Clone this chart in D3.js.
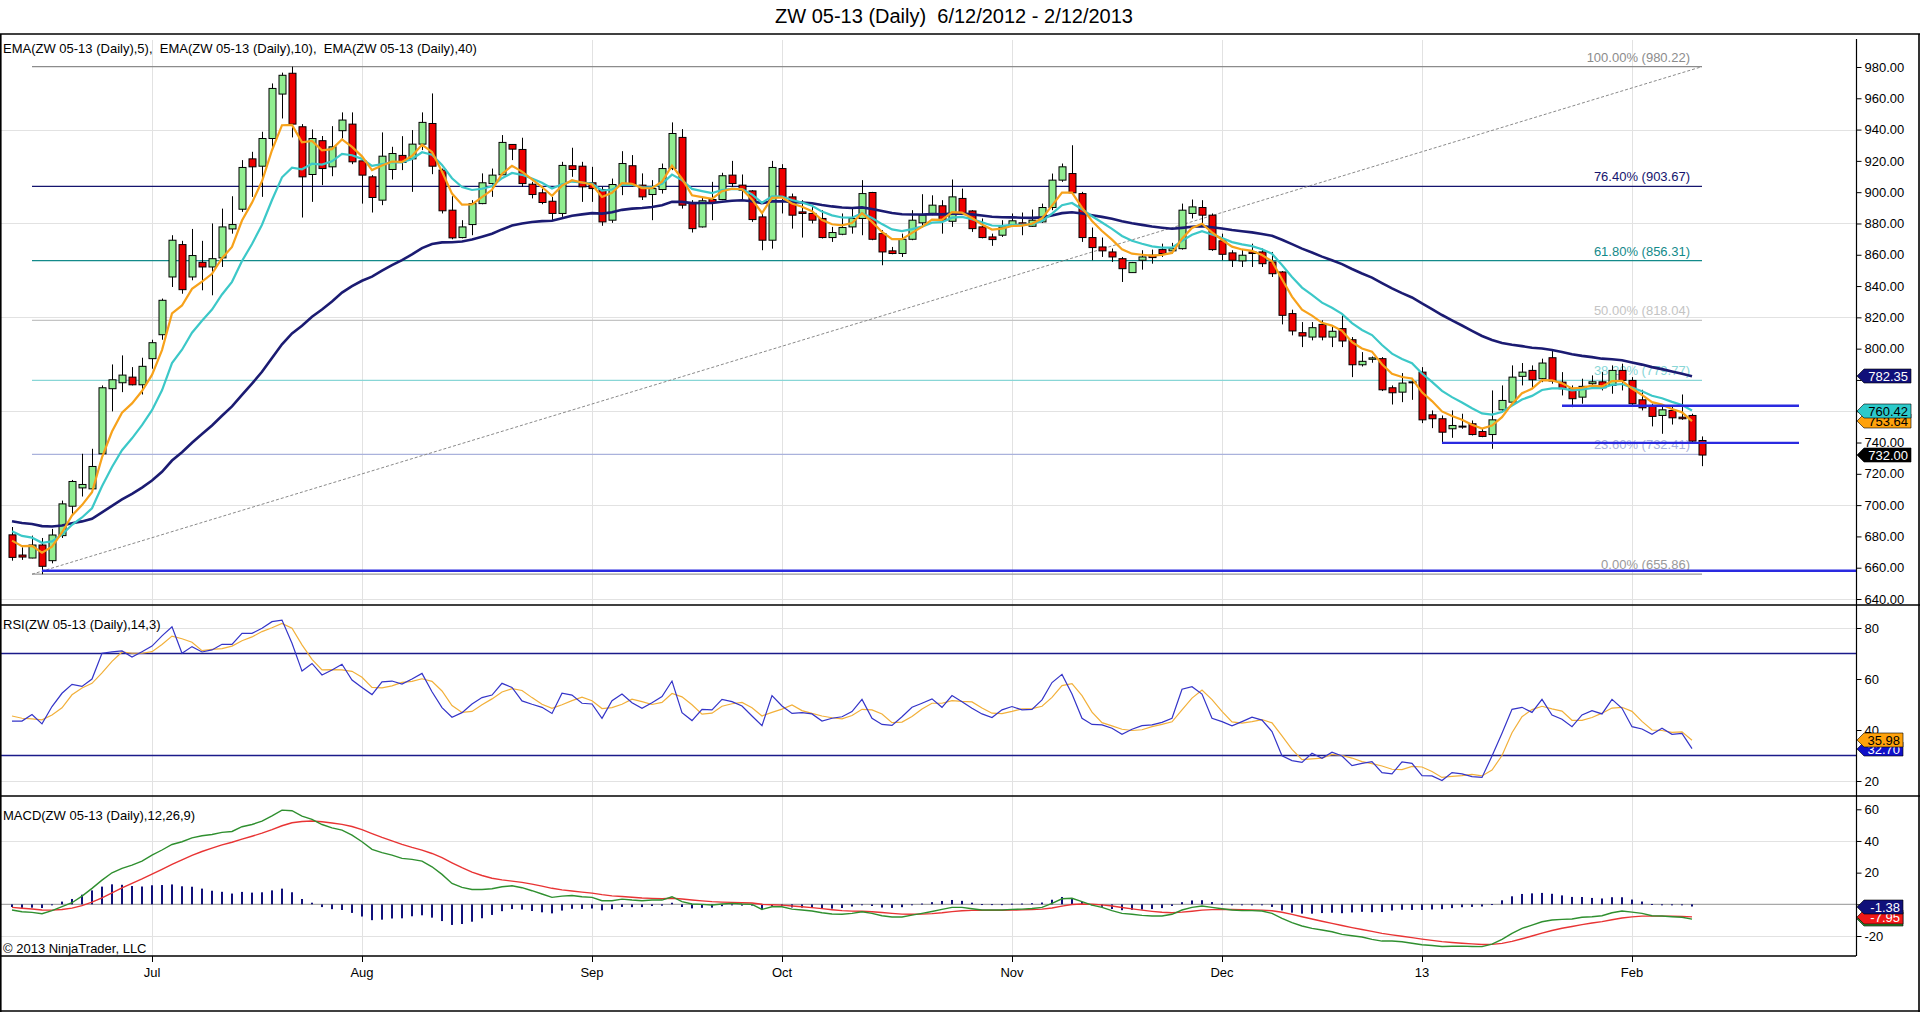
<!DOCTYPE html>
<html>
<head>
<meta charset="utf-8">
<script src="https://cdn.jsdelivr.net/npm/d3@7"></script>
<style>
  body { margin: 0; background: #fff; }
  text { font-family: "Liberation Sans", Arial, sans-serif; white-space: pre; }
</style>
</head>
<body>
<svg id="chart"></svg>
<script>
// ZW 05-13 daily bars, 6/12/2012 - 2/12/2013 (bar index 0..169)
const opens = [681,668.1,666.2,674.5,664.5,680.5,699.3,711,710.4,732.8,774.4,778.2,781.8,776.9,793.6,808.9,845.8,866.5,845.8,855.2,
852.2,858,876.5,889.1,921.3,916.6,934.3,962.7,976,941.8,911.3,932.9,916.2,939.3,943.5,920,909.8,894.9,914.5,923.5,
921.3,930.7,943.9,914.1,888.5,871,879.3,892.7,905.5,911.1,930.5,927.3,905.1,899.6,894.2,886.4,916.9,916.6,906,901.7,
882.1,904.5,916.9,904.5,898.5,901.7,915.1,935,892.7,877.8,895.3,895.3,910.9,904.5,900.8,884.2,869.3,915.1,897,887.4,
886.4,883.2,871,873.1,877.8,883.2,899.8,873.5,862.5,860.8,869.9,880.4,886.4,891.3,881.4,896,888,877.8,871.4,872.5,
878.9,880.4,878.2,881,890.2,907.7,911.9,899.1,871,865,861.8,857.5,848.6,856.5,859.7,863.3,862.5,863.9,886.4,890.2,
885.3,868.9,861.2,856.1,861.8,861.8,855.4,849,822.4,810.2,807.4,815.5,807.4,812.8,805.7,789.7,793.2,793.6,775,772.2,
778.2,785,757.7,755.2,748.8,750.5,752,747,745.1,760.9,765.8,782.3,786.1,780.8,794.2,778.6,774.4,769,777.6,778.8,
776.5,786.1,779.7,767.3,763.7,757.3,760.5,756.2,757.3,741.3];
const highs = [686,673,680.5,679,684.8,702.9,716.1,732.8,736,776.5,789.9,795.7,788.2,794.2,805.7,832,872.5,868.9,876.5,868.9,
880,889.5,897.4,920.5,925.8,938.6,969.5,976.4,980.22,943.5,940.1,935.9,942.2,951,951,920.9,910.9,938.2,929,935.8,
939.7,951,963.1,915.1,897.4,882.1,894.9,912,915.1,936.5,930.7,934.8,906.6,902.3,897,919.4,928.4,919.4,916.2,903.4,
908.7,926.2,923.7,912,907.7,918.3,944.6,940.3,894.9,897,906.6,912.4,920,911.3,901.3,886.4,920,917.9,899.1,894.9,
890.6,888.5,877.8,886.4,889.5,907.7,900.2,875.7,865,873.5,888.5,898.7,898,894.9,908.1,902.3,888.5,883.2,873.5,882.1,
886.4,887,888.9,892.7,911.9,918.3,930,900.2,877.4,871,864,858.6,855.4,862.9,863.3,867.1,867.6,892.7,895.3,894.9,
886.4,873.5,862.9,863.3,867.1,864,861.8,849.6,824.9,817,817,818.1,813.8,821.3,807.4,797.8,795,794.6,776.5,784.4,
780.1,788.2,760.5,757.3,760.5,758.4,754.1,748.8,773.3,776.5,789.3,790.8,789.3,793.6,798.9,785,776.5,780.8,782.9,785,
789.3,790.4,781.8,773.7,764.8,763.7,763.7,770.7,758.4,743.9];
const lows = [664.5,665,666,655.86,662.8,679,694.4,705.5,709.3,732.3,759.9,772.2,776.5,770.7,787.2,805.7,839.4,835.1,843.7,837.3,
834.1,852.2,873.5,887.4,897,897,929,947.1,935,883.8,893.8,904.5,910.2,934.3,917.9,892.7,887,891.7,908.1,914.1,
900.2,926.9,911.5,886.4,869.9,870.5,872.5,892.3,897,910.9,920.5,903.4,896,892.3,882.1,884.2,909.8,893.8,893.8,878.5,
880.4,898.1,903.4,895,882.1,899.1,914.1,889.5,874.2,877.4,882.1,894.9,903.4,894.9,881,862.9,863.9,886.4,876.7,871,
880,870.4,868.2,872.5,873.5,872.5,869.3,853.3,860.3,858.6,869.3,877.8,885.3,873.5,877.8,886,874.6,870.5,865.7,871.4,
878,872.5,877.8,880.4,888.5,906.6,899.1,868.2,856.5,858.6,855.4,842.6,848.4,850.5,854.3,858.6,860.8,863.3,883.2,877.8,
862.5,856.5,852.2,852.2,852.2,852.2,845.8,815.5,808.5,801,805.3,805.3,801,801,781.8,788.6,791,772.9,764.3,765.8,
767.3,752.4,749.2,739.6,743,748.8,744.5,743.4,736,759.4,764.8,776.5,775.4,778.6,777.6,770.1,762.6,764.8,775.4,773.3,
771.2,773.3,763.7,760.5,750.3,745.6,751.5,754.5,740.2,724.9];
const closes = [666.6,666.8,674.5,660.9,680.9,700.8,715.1,713.2,724.7,775,780.1,783.1,776.9,788.7,803.8,830.9,869.3,837.7,859.5,852.2,
857.5,877.8,879.3,915.8,916.2,934.3,966.3,974.7,943.5,909.8,934.3,915.1,929,946.1,919.4,910.9,896.6,923,924.7,919,
930.7,944.6,916.6,888.1,870.8,877.8,892.7,906,910.9,931.8,927.5,905.5,898.5,893.4,886.4,917.1,914.5,903.4,902.3,881,
904.9,918.3,904.5,897,902.3,915.1,937.5,891.7,876.7,894.5,893.4,910.5,905.5,901.3,882.5,869.3,915.8,897,885.3,886.4,
882.1,871,874.2,877.4,883.2,899.1,869.9,861.8,860.8,869.9,882.1,885.3,891.7,882.1,897,886.4,876.7,871,869.7,877.8,
881.7,878.9,882.1,890.2,907.7,916.2,899.6,871,864.6,862.5,858.6,851.1,855,858.6,858.2,860.8,863.9,888.5,890.6,885.3,
863.3,860.3,856.5,859.7,860.8,854.3,847.9,821.3,811.3,808.1,813.4,807.4,811.1,804.9,789.7,791.9,794.1,773.7,771.8,778,
778.8,754.5,755.2,746.6,750.9,750.1,745.1,743.9,754.5,766.9,781.8,785,780.1,790.8,779.3,774.4,768,775.9,778.8,775,
786.1,779.7,764.8,762.2,756.7,760.9,755.8,755.2,740.9,732];

// indicators, one value per bar 0..168 (last bar not yet closed)
const ema5 = [677.3,673.8,674.0,669.6,673.4,682.5,693.4,700.0,708.2,730.5,747.0,759.0,765.0,772.9,783.2,799.1,822.5,827.6,838.2,842.9,
847.8,857.8,865.0,881.9,893.3,907.0,926.8,942.8,943.0,931.9,932.7,926.8,927.5,933.7,928.9,922.9,914.1,917.1,919.6,919.4,
923.2,930.3,925.7,913.2,899.1,892.0,892.2,896.8,901.5,911.6,916.9,913.1,908.2,903.3,897.7,904.2,907.6,906.2,904.9,896.9,
899.6,905.8,905.4,902.6,902.5,906.7,917.0,908.6,898.0,896.8,895.7,900.6,902.2,901.9,895.4,886.7,896.4,896.6,892.8,890.7,
887.8,882.2,879.5,878.8,880.3,886.6,881.0,874.6,870.0,870.0,874.0,877.8,882.4,882.3,887.2,886.9,883.5,879.3,876.1,876.7,
878.4,878.6,879.8,883.3,891.4,899.7,899.7,890.1,881.6,875.2,869.7,863.5,860.7,860.0,859.4,859.9,861.2,870.3,877.1,879.8,
874.3,869.6,865.2,863.4,862.5,859.8,855.8,844.3,833.3,824.9,821.1,816.5,814.7,811.4,804.2,800.1,798.1,790.0,783.9,781.9,
780.9,772.1,766.5,759.9,756.9,754.6,751.4,748.9,750.8,756.2,764.7,771.5,774.4,779.9,779.7,777.9,774.6,775.0,776.3,775.9,
779.3,779.4,774.5,770.4,765.8,764.2,761.4,759.3,753.64];
const ema10 = [683.3,680.3,679.2,675.9,676.8,681.2,687.4,692.1,698.0,712.0,724.4,735.1,742.7,751.1,760.7,773.4,790.8,799.3,810.2,817.8,
825.0,834.6,842.7,856.0,866.9,879.2,895.0,909.5,915.7,914.6,918.2,917.6,919.7,924.5,923.6,921.3,916.8,917.9,919.1,919.1,
921.2,925.5,923.9,917.4,908.9,903.3,901.4,902.2,903.8,908.9,912.3,911.1,908.8,906.0,902.4,905.1,906.8,906.2,905.5,901.0,
901.7,904.7,904.7,903.3,903.1,905.3,911.2,907.7,902.1,900.7,899.4,901.4,902.1,902.0,898.5,893.2,897.3,897.2,895.0,893.4,
891.3,887.6,885.2,883.8,883.7,886.5,883.5,879.6,876.2,875.1,876.4,878.0,880.5,880.8,883.7,884.2,882.8,880.7,878.7,878.5,
879.1,879.1,879.6,881.5,886.3,891.7,893.1,889.1,884.6,880.6,876.6,872.0,868.9,867.0,865.4,864.6,864.5,868.9,872.8,875.1,
873.0,870.7,868.1,866.6,865.5,863.5,860.7,853.5,845.8,839.0,834.3,829.4,826.1,822.2,816.3,811.9,808.7,802.3,796.8,793.4,
790.7,784.1,778.8,773.0,769.0,765.6,761.9,758.6,757.9,759.5,763.6,767.5,769.8,773.6,774.6,774.6,773.4,773.9,774.8,774.8,
776.9,777.4,775.1,772.8,769.9,768.3,766.0,764.0,760.42];
const ema40 = [689.7,688.6,687.9,686.6,686.3,687.0,688.4,689.6,691.3,695.4,699.5,703.6,707.2,711.2,715.7,721.3,728.5,733.8,739.9,745.4,
750.9,757.1,763.1,770.5,777.6,785.2,794.0,802.8,809.7,814.6,820.4,825.0,830.1,835.8,839.9,843.4,846.0,849.8,853.4,856.6,
860.2,864.3,866.9,867.9,868.0,868.5,869.7,871.5,873.4,876.2,878.7,880.0,880.9,881.5,881.7,883.4,884.9,885.8,886.6,886.3,
887.2,888.7,889.5,889.9,890.5,891.7,893.9,893.8,893.0,893.1,893.1,893.9,894.5,894.8,894.2,893.0,894.1,894.2,893.8,893.4,
892.9,891.8,890.9,890.2,889.9,890.3,889.3,888.0,886.7,885.9,885.7,885.7,886.0,885.8,886.3,886.3,885.8,885.1,884.3,884.0,
883.9,883.7,883.6,883.9,885.1,886.6,887.2,886.4,885.3,884.2,883.0,881.4,880.1,879.1,878.1,877.3,876.6,877.2,877.9,878.3,
877.6,876.8,875.8,875.0,874.3,873.3,872.1,869.6,866.8,863.9,861.4,858.8,856.5,854.0,850.9,848.0,845.4,841.9,838.5,835.5,
832.7,828.9,825.3,821.5,818.1,814.8,811.4,808.1,805.5,803.6,802.5,801.6,800.6,800.1,799.1,797.9,796.4,795.4,794.6,793.6,
793.2,792.6,791.2,789.8,788.2,786.9,785.4,783.9,782.35];
const rsi = [43.5,43.5,46.1,42.4,49.2,54.4,57.9,57.1,60.0,70.1,70.6,71.0,68.6,70.7,72.9,76.9,80.5,70.1,72.7,70.6,
71.4,73.6,73.6,77.9,77.9,79.9,82.5,83.1,74.0,63.1,66.1,61.6,63.5,65.8,59.6,56.7,53.9,58.9,59.2,58.0,
60.0,62.2,55.0,48.8,45.0,46.8,50.2,52.7,53.7,58.3,56.7,51.4,50.1,48.9,46.5,54.4,53.7,50.5,50.2,44.6,
51.5,54.1,50.7,48.5,50.7,53.1,59.2,46.8,43.7,48.1,47.9,52.0,51.1,49.4,45.5,41.7,53.5,49.4,46.5,46.8,
46.3,43.5,44.6,45.2,47.2,52.0,44.6,42.2,41.8,45.2,48.9,50.5,52.2,48.9,53.5,51.1,48.5,46.3,44.9,47.9,
49.2,47.9,48.1,51.8,58.6,61.8,54.1,44.6,42.2,42.0,40.7,38.3,40.3,41.7,42.0,43.0,44.6,56.0,57.0,54.1,
44.6,43.3,41.6,43.3,45.0,43.9,39.4,29.9,28.0,27.3,30.9,28.9,31.3,29.8,26.0,26.9,27.6,23.3,22.8,27.5,
26.9,22.1,22.0,20.2,23.3,22.8,21.7,21.4,29.8,38.7,48.1,48.9,46.9,52.0,45.9,44.2,41.3,45.9,47.6,46.3,
52.0,48.5,41.3,40.4,38.3,40.7,38.3,38.7,32.70];
const rsiAvg = [45.5,44.6,44.4,44.0,45.9,48.7,53.8,56.5,58.3,62.4,66.9,70.6,70.1,70.1,70.7,73.5,76.8,75.8,74.4,71.1,
71.6,71.9,72.9,75.0,76.5,78.6,80.1,81.8,79.9,73.4,67.7,63.6,63.7,63.6,63.0,60.7,56.7,56.5,57.3,58.7,
59.1,60.1,59.1,55.3,49.6,46.9,47.3,49.9,52.2,54.9,56.2,55.5,52.7,50.1,48.5,49.9,51.5,52.9,51.5,48.4,
48.8,50.1,52.1,51.1,50.0,50.8,54.3,53.0,49.9,46.2,46.6,49.3,50.3,50.8,48.7,45.5,46.9,48.2,49.8,47.6,
46.5,45.5,44.8,44.4,45.7,48.1,47.9,46.3,42.9,43.1,45.3,48.2,50.5,50.5,51.5,51.2,51.0,48.6,46.6,46.4,
47.3,48.3,48.4,49.3,52.8,57.4,58.2,53.5,47.0,42.9,41.6,40.3,39.8,40.1,41.3,42.2,43.2,47.9,52.5,55.7,
51.9,47.3,43.2,42.7,43.3,44.1,42.8,37.7,32.4,28.4,28.7,29.0,30.4,30.0,29.0,27.6,26.8,25.9,24.6,24.5,
25.7,25.5,23.7,21.4,21.8,22.1,22.6,22.0,24.3,30.0,38.9,45.2,48.0,49.3,48.3,47.4,43.8,43.8,44.9,46.6,
48.6,48.9,47.3,43.4,40.0,39.8,39.1,39.3,35.98];
const macd = [-3.6,-4.7,-5.1,-5.9,-4.0,-1.5,1.0,5.2,10.1,15.3,19.9,22.7,24.8,27.3,31.1,34.3,37.8,39.5,42.0,43.3,
44.1,45.4,46.0,49.0,50.4,52.5,55.9,59.5,59.1,55.7,53.6,50.4,48.3,46.9,43.7,39.5,34.7,32.6,31.1,29.0,
28.4,27.3,23.7,18.9,13.2,10.7,9.4,9.4,9.8,11.1,11.7,10.5,8.6,6.5,4.4,5.2,5.6,4.8,4.4,2.3,
2.3,3.3,2.7,2.3,2.7,2.7,4.8,1.7,0.2,0.0,-0.4,0.2,0.6,0.2,0.0,-3.2,-1.5,-1.5,-3.0,-3.6,
-4.2,-5.3,-6.1,-6.3,-5.7,-4.7,-5.7,-7.2,-8.0,-8.0,-6.8,-5.7,-4.5,-3.2,-1.9,-1.9,-2.8,-3.6,-3.6,-3.6,
-3.2,-3.0,-2.6,-1.9,0.6,3.5,3.8,1.7,-0.5,-1.9,-4.0,-5.7,-6.3,-7.0,-7.4,-7.4,-6.3,-3.6,-1.9,-1.1,
-1.9,-2.8,-3.6,-4.0,-4.0,-4.2,-5.7,-8.9,-11.6,-13.7,-15.2,-16.2,-17.3,-19.0,-19.8,-20.6,-22.1,-23.2,-23.2,-23.6,
-24.6,-25.5,-26.0,-26.6,-26.5,-26.4,-26.6,-26.7,-25.1,-22.1,-18.3,-15.2,-13.1,-11.0,-9.9,-9.5,-9.3,-8.2,-7.8,-7.2,
-5.3,-4.2,-4.9,-5.7,-7.2,-7.4,-7.8,-8.2,-9.33];
const macdAvg = [-1.9,-2.46,-2.99,-3.57,-3.66,-3.23,-2.38,-0.86,1.33,4.12,7.28,10.36,13.25,16.06,19.07,22.12,25.26,28.11,30.89,33.37,
35.52,37.50,39.20,41.16,43.01,44.91,47.11,49.59,51.49,52.33,52.58,52.14,51.37,50.48,49.12,47.20,44.70,42.28,40.04,37.83,
35.94,34.21,32.11,29.47,26.22,23.12,20.37,18.18,16.50,15.42,14.68,13.84,12.79,11.53,10.11,9.13,8.42,7.70,7.04,6.09,
5.33,4.93,4.48,4.04,3.78,3.56,3.81,3.39,2.75,2.20,1.68,1.38,1.22,1.02,0.82,0.02,-0.28,-0.52,-1.02,-1.54,
-2.07,-2.72,-3.40,-3.98,-4.32,-4.40,-4.66,-5.17,-5.74,-6.19,-6.31,-6.19,-5.85,-5.32,-4.64,-4.09,-3.83,-3.78,-3.74,-3.71,
-3.61,-3.49,-3.31,-3.03,-2.30,-1.14,-0.15,0.22,0.08,-0.32,-1.06,-1.99,-2.85,-3.68,-4.42,-5.02,-5.28,-4.94,-4.33,-3.68,
-3.32,-3.22,-3.30,-3.44,-3.55,-3.68,-4.08,-5.04,-6.35,-7.82,-9.30,-10.68,-12.00,-13.40,-14.68,-15.86,-17.11,-18.33,-19.30,-20.16,
-21.05,-21.94,-22.75,-23.52,-24.12,-24.58,-24.98,-25.32,-25.28,-24.64,-23.37,-21.74,-20.01,-18.21,-16.55,-15.14,-13.97,-12.82,-11.82,-10.90,
-9.78,-8.66,-7.91,-7.47,-7.42,-7.42,-7.50,-7.64,-7.95];
const macdDiff = [-1.70,-2.24,-2.11,-2.33,-0.34,1.73,3.38,6.06,8.77,11.18,12.62,12.34,11.55,11.24,12.03,12.18,12.54,11.39,11.11,9.93,
8.58,7.90,6.80,7.84,7.39,7.59,8.79,9.91,7.61,3.37,1.02,-1.74,-3.07,-3.58,-5.42,-7.70,-10.00,-9.68,-8.94,-8.83,
-7.54,-6.91,-8.41,-10.57,-13.02,-12.42,-10.97,-8.78,-6.70,-4.32,-2.98,-3.34,-4.19,-5.03,-5.71,-3.93,-2.82,-2.90,-2.64,-3.79,
-3.03,-1.63,-1.78,-1.74,-1.08,-0.86,0.99,-1.69,-2.55,-2.20,-2.08,-1.18,-0.62,-0.82,-0.82,-3.22,-1.22,-0.98,-1.98,-2.06,
-2.13,-2.58,-2.70,-2.32,-1.38,-0.30,-1.04,-2.03,-2.26,-1.81,-0.49,0.49,1.35,2.12,2.74,2.19,1.03,0.18,0.14,0.11,
0.41,0.49,0.71,1.13,2.90,4.64,3.95,1.48,-0.58,-1.58,-2.94,-3.71,-3.45,-3.32,-2.98,-2.38,-1.02,1.34,2.43,2.58,
1.42,0.42,-0.30,-0.56,-0.45,-0.52,-1.62,-3.86,-5.25,-5.88,-5.90,-5.52,-5.30,-5.60,-5.12,-4.74,-4.99,-4.87,-3.90,-3.44,
-3.55,-3.56,-3.25,-3.08,-2.38,-1.82,-1.62,-1.38,0.18,2.54,5.07,6.54,6.91,7.21,6.65,5.64,4.67,4.62,4.02,3.70,
4.48,4.46,3.01,1.77,0.22,0.02,-0.30,-0.56,-1.38];

// month starts (bar index) and their labels
const monthBars = [14, 35, 58, 77, 100, 121, 141, 162];
const monthLabels = ["Jul", "Aug", "Sep", "Oct", "Nov", "Dec", "13", "Feb"];

const priceTicks = [640,660,680,700,720,740,760,780,800,820,840,860,880,900,920,940,960,980];
const priceGrid = [640, 700, 760, 820, 880, 940];
const rsiTicks = [20, 40, 60, 80];
const rsiGrid = [20, 80];
const rsiBands = [30, 70];
const macdTicks = [-20, 0, 20, 40, 60];
const macdGrid = [-20, 40];

// Fibonacci retracement drawn from bar 2 (low) to bar 169 (high)
const fibLabels = ["100.00%", "76.40%", "61.80%", "50.00%", "38.20%", "23.60%", "0.00%"];
const fibValues = [980.22, 903.67, 856.31, 818.04, 779.77, 732.41, 655.86];
const fibFrom = 2, fibTo = 169;

// user-drawn horizontal lines: start bar, end bar, price
const lineFrom = [3, 143, 155];
const lineTo = [186, 178.7, 178.7];
const linePrice = [658.1, 739.8, 763.5];

const title = "ZW 05-13 (Daily)  6/12/2012 - 2/12/2013";
const mainLegend = "EMA(ZW 05-13 (Daily),5),  EMA(ZW 05-13 (Daily),10),  EMA(ZW 05-13 (Daily),40)";
const rsiLegend = "RSI(ZW 05-13 (Daily),14,3)";
const macdLegend = "MACD(ZW 05-13 (Daily),12,26,9)";
const copyright = "\u00a9 2013 NinjaTrader, LLC";

// ---- layout & styles ----
const W = 1920, H = 1012;
const axisX = 1856;
const mainTop = 34, mainBot = 605, rsiBot = 796, macdBot = 956;
const fs = 13;
const fibColor = ["#8c8c8c", "#14146e", "#138a8a", "#c4c4c4", "#88d6d6", "#aab2dc", "#9a9a9a"];
const c = {
  up: "#90ee90", down: "#f00000", ema5: "#f7a21b", ema10: "#3cc8c8", ema40: "#1b1b72",
  grid: "#e2e2e2", hline: "#2a2ae0", band: "#1b1b8a", rsi: "#3434c8", rsiAvg: "#f2b03a",
  macd: "#2f8f2f", macdAvg: "#e83434", diff: "#10107a", zero: "#a8a8a8"
};

const svg = d3.select("#chart").attr("width", W).attr("height", H);

const x = d3.scaleLinear().domain([0, 169]).range([12, 1702]);
const yP = d3.scaleLinear().domain([640, 980]).range([599, 67]);
const yR = d3.scaleLinear().domain([20, 80]).range([781, 628]);
const yM = d3.scaleLinear().domain([-20, 60]).range([936, 809.3]);

const defs = svg.append("defs");
[["clipMain", mainTop, mainBot], ["clipRsi", mainBot, rsiBot], ["clipMacd", rsiBot, macdBot]].forEach(([id, t, b]) => {
  defs.append("clipPath").attr("id", id).append("rect")
    .attr("x", 0).attr("y", t).attr("width", axisX).attr("height", b - t);
});

// vertical month grid
svg.append("g").selectAll("line").data(monthBars).join("line")
  .attr("x1", d => Math.round(x(d)) + 0.5).attr("x2", d => Math.round(x(d)) + 0.5)
  .attr("y1", mainTop + 6).attr("y2", macdBot)
  .attr("stroke", c.grid).attr("stroke-width", 1);

function hGrid(values, scale) {
  svg.append("g").selectAll("line").data(values).join("line")
    .attr("x1", 0).attr("x2", axisX)
    .attr("y1", d => Math.round(scale(d)) + 0.5).attr("y2", d => Math.round(scale(d)) + 0.5)
    .attr("stroke", c.grid).attr("stroke-width", 1);
}
hGrid(priceGrid, yP);
hGrid(rsiGrid, yR);
hGrid(macdGrid, yM);

// ---- main panel ----
const main = svg.append("g").attr("clip-path", "url(#clipMain)");

// fib levels
const fib = main.append("g");
fibValues.forEach((v, i) => {
  fib.append("line")
    .attr("x1", x(fibFrom)).attr("x2", x(fibTo))
    .attr("y1", yP(v)).attr("y2", yP(v))
    .attr("stroke", fibColor[i]).attr("stroke-width", 1.3);
  fib.append("text")
    .attr("x", x(fibTo) - 12).attr("y", yP(v) - 5)
    .attr("text-anchor", "end").attr("font-size", fs)
    .attr("fill", fibColor[i])
    .text(fibLabels[i] + " (" + v.toFixed(2) + ")");
});
fib.append("line")
  .attr("x1", x(fibFrom)).attr("y1", yP(fibValues[6]))
  .attr("x2", x(fibTo)).attr("y2", yP(fibValues[0]))
  .attr("stroke", "#8a8a8a").attr("stroke-width", 1).attr("stroke-dasharray", "3,2");

// candles
const bars = d3.range(closes.length);
const cg = main.append("g");
cg.selectAll("line.wick").data(bars).join("line").attr("class", "wick")
  .attr("x1", i => Math.round(x(i)) + 0.5).attr("x2", i => Math.round(x(i)) + 0.5)
  .attr("y1", i => yP(highs[i])).attr("y2", i => yP(lows[i]))
  .attr("stroke", "#000").attr("stroke-width", 1);
cg.selectAll("rect.body").data(bars).join("rect").attr("class", "body")
  .attr("x", i => Math.round(x(i)) - 3)
  .attr("width", 7)
  .attr("y", i => yP(Math.max(opens[i], closes[i])))
  .attr("height", i => Math.max(1, Math.abs(yP(opens[i]) - yP(closes[i]))))
  .attr("fill", i => closes[i] >= opens[i] ? c.up : c.down)
  .attr("stroke", "#000").attr("stroke-width", 1);

// EMAs
const lineP = arr => d3.line().x((d, i) => x(i)).y(d => yP(d))(arr);
main.append("path").attr("d", lineP(ema40)).attr("fill", "none").attr("stroke", c.ema40).attr("stroke-width", 2.6);
main.append("path").attr("d", lineP(ema10)).attr("fill", "none").attr("stroke", c.ema10).attr("stroke-width", 2.2);
main.append("path").attr("d", lineP(ema5)).attr("fill", "none").attr("stroke", c.ema5).attr("stroke-width", 2.2);

// drawn horizontal lines
main.append("g").selectAll("line").data(linePrice).join("line")
  .attr("x1", (d, i) => x(lineFrom[i])).attr("x2", (d, i) => x(lineTo[i]))
  .attr("y1", d => yP(d)).attr("y2", d => yP(d))
  .attr("stroke", c.hline).attr("stroke-width", 2.4);

// ---- RSI panel ----
const rp = svg.append("g").attr("clip-path", "url(#clipRsi)");
rp.selectAll("line.band").data(rsiBands).join("line").attr("class", "band")
  .attr("x1", 0).attr("x2", axisX)
  .attr("y1", d => yR(d)).attr("y2", d => yR(d))
  .attr("stroke", c.band).attr("stroke-width", 1.6);
const lineR = arr => d3.line().x((d, i) => x(i)).y(d => yR(d))(arr);
rp.append("path").attr("d", lineR(rsiAvg)).attr("fill", "none").attr("stroke", c.rsiAvg).attr("stroke-width", 1.2);
rp.append("path").attr("d", lineR(rsi)).attr("fill", "none").attr("stroke", c.rsi).attr("stroke-width", 1.2);

// ---- MACD panel ----
const mp = svg.append("g").attr("clip-path", "url(#clipMacd)");
mp.append("line").attr("x1", 0).attr("x2", axisX)
  .attr("y1", yM(0)).attr("y2", yM(0)).attr("stroke", c.zero).attr("stroke-width", 1.4);
mp.selectAll("rect.diff").data(macdDiff).join("rect").attr("class", "diff")
  .attr("x", (d, i) => Math.round(x(i)) - 1)
  .attr("width", 2)
  .attr("y", d => Math.min(yM(d), yM(0)))
  .attr("height", d => Math.max(1, Math.abs(yM(d) - yM(0))))
  .attr("fill", c.diff);
const lineM = arr => d3.line().x((d, i) => x(i)).y(d => yM(d))(arr);
mp.append("path").attr("d", lineM(macdAvg)).attr("fill", "none").attr("stroke", c.macdAvg).attr("stroke-width", 1.4);
mp.append("path").attr("d", lineM(macd)).attr("fill", "none").attr("stroke", c.macd).attr("stroke-width", 1.4);

// ---- frame ----
const frame = svg.append("g").attr("stroke", "#000").attr("stroke-width", 1.6);
frame.append("line").attr("x1", 0).attr("x2", W).attr("y1", mainTop).attr("y2", mainTop);
frame.append("line").attr("x1", 0).attr("x2", W).attr("y1", mainBot).attr("y2", mainBot);
frame.append("line").attr("x1", 0).attr("x2", W).attr("y1", rsiBot).attr("y2", rsiBot);
frame.append("line").attr("x1", 0).attr("x2", axisX).attr("y1", macdBot).attr("y2", macdBot);
frame.append("line").attr("x1", 0).attr("x2", W).attr("y1", H - 1).attr("y2", H - 1);
frame.append("line").attr("x1", 0.8).attr("x2", 0.8).attr("y1", mainTop).attr("y2", H);
frame.append("line").attr("x1", W - 1).attr("x2", W - 1).attr("y1", mainTop).attr("y2", H);
frame.append("line").attr("x1", axisX + 0.5).attr("x2", axisX + 0.5).attr("y1", mainTop + 5).attr("y2", macdBot)
  .attr("stroke-width", 1.2);

// ---- last-value flags (value, scale, colours) ----
const last = ema5.length - 1;
const flags = [
  { scale: yP, value: ema5[last], fill: "#ffa20c", ink: "#000", right: 1911 },
  { scale: yP, value: ema10[last], fill: "#2ccaca", ink: "#000", right: 1911 },
  { scale: yP, value: ema40[last], fill: "#10107a", ink: "#fff", right: 1911 },
  { scale: yP, value: closes[closes.length - 1], fill: "#000", ink: "#fff", right: 1911 },
  { scale: yR, value: rsi[last], fill: "#1010c8", ink: "#fff", right: 1903 },
  { scale: yR, value: rsiAvg[last], fill: "#ffa20c", ink: "#000", right: 1903 },
  { scale: yM, value: macd[last], fill: "#2f8f2f", ink: null, right: 1903 },
  { scale: yM, value: macdAvg[last], fill: "#f01818", ink: "#fff", right: 1903 },
  { scale: yM, value: macdDiff[last], fill: "#10107a", ink: "#fff", right: 1903 }
];

// ---- right axes (labels hidden where a flag sits on them) ----
function rightAxis(scale, ticks, fmt) {
  const covered = d => flags.some(f => f.scale === scale && Math.abs(scale(f.value) - scale(d)) < 7);
  const g = svg.append("g").attr("transform", `translate(${axisX + 0.5},0)`)
    .call(d3.axisRight(scale).tickValues(ticks).tickFormat(d => covered(d) ? "" : fmt(d)).tickSize(5).tickPadding(3));
  g.select(".domain").remove();
  g.selectAll(".tick line").attr("stroke", "#000");
  g.selectAll(".tick text").attr("font-size", fs).attr("fill", "#000").attr("font-family", null);
  return g;
}
rightAxis(yP, priceTicks, d => d.toFixed(2));
rightAxis(yR, rsiTicks, d => String(d));
rightAxis(yM, macdTicks, d => String(d));

flags.forEach(f => {
  const yc = Math.round(f.scale(f.value));
  const g = svg.append("g");
  g.append("path")
    .attr("d", `M${axisX + 1},${yc} L${axisX + 8},${yc - 7} L${f.right},${yc - 7} L${f.right},${yc + 7} L${axisX + 8},${yc + 7} Z`)
    .attr("fill", f.fill).attr("stroke", "#000").attr("stroke-width", 0.6);
  if (f.ink) {
    g.append("text").attr("x", f.right - 3).attr("y", yc + 4.6)
      .attr("text-anchor", "end").attr("font-size", fs).attr("fill", f.ink)
      .text(f.value.toFixed(2));
  }
});

// ---- x axis (months) ----
const xa = svg.append("g");
xa.selectAll("line").data(monthBars).join("line")
  .attr("x1", d => Math.round(x(d)) + 0.5).attr("x2", d => Math.round(x(d)) + 0.5)
  .attr("y1", macdBot).attr("y2", macdBot + 6).attr("stroke", "#000");
xa.selectAll("text").data(monthBars).join("text")
  .attr("x", d => x(d)).attr("y", 977)
  .attr("text-anchor", "middle").attr("font-size", fs)
  .text((d, i) => monthLabels[i]);

// ---- texts ----
svg.append("text").attr("x", 954).attr("y", 23).attr("text-anchor", "middle")
  .attr("font-size", 20).text(title);
svg.append("text").attr("x", 3).attr("y", 52.5).attr("font-size", fs).text(mainLegend);
svg.append("text").attr("x", 3).attr("y", 628.5).attr("font-size", fs).text(rsiLegend);
svg.append("text").attr("x", 3).attr("y", 819.5).attr("font-size", fs).text(macdLegend);
svg.append("text").attr("x", 3).attr("y", 952.5).attr("font-size", fs).text(copyright);
</script>
</body>
</html>
